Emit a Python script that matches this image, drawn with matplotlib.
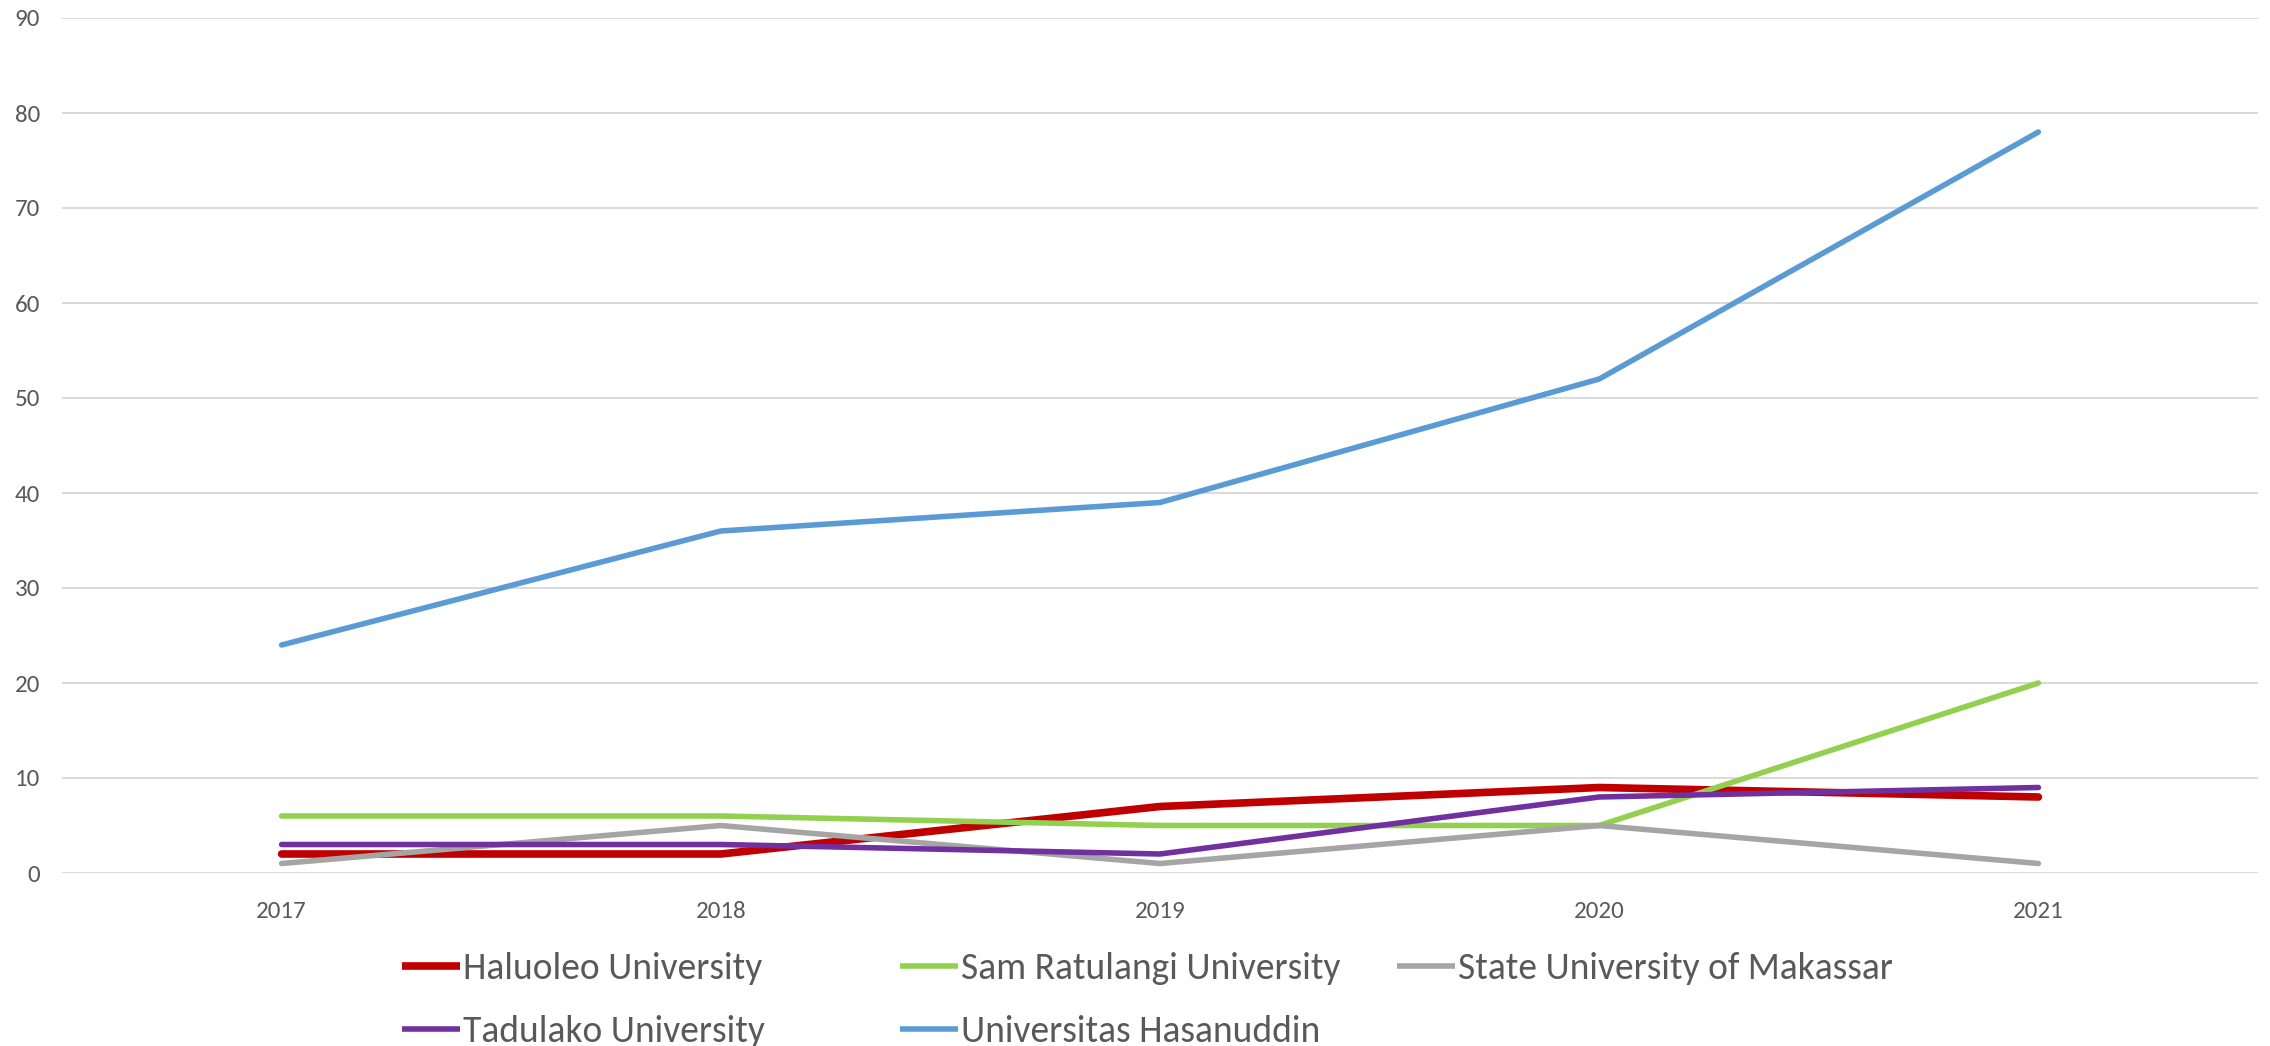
import matplotlib.pyplot as plt
from matplotlib.lines import Line2D

plt.rcParams['font.family'] = ['Carlito', 'Open Sans', 'DejaVu Sans']

# data
years = ['2017', '2018', '2019', '2020', '2021']
haluoleo = [2, 2, 7, 9, 8]
sam_ratulangi = [6, 6, 5, 5, 20]
state_makassar = [1, 5, 1, 5, 1]
tadulako = [3, 3, 2, 8, 9]
hasanuddin = [24, 36, 39, 52, 78]

series = [
    ('Haluoleo University', haluoleo, '#C00000', 5.5),
    ('Sam Ratulangi University', sam_ratulangi, '#92D050', 4.0),
    ('State University of Makassar', state_makassar, '#A5A5A5', 4.0),
    ('Tadulako University', tadulako, '#7030A0', 4.0),
    ('Universitas Hasanuddin', hasanuddin, '#5B9BD5', 4.0),
]

fig = plt.figure(figsize=(22.7, 10.46), dpi=100)
ax = fig.add_axes([62 / 2270, 1 - 873 / 1046, (2258 - 62) / 2270, (873 - 18) / 1046])

x = range(len(years))
handles = []
for name, vals, col, lw in series:
    ax.plot(x, vals, color=col, lw=lw, solid_capstyle='round',
            solid_joinstyle='round', label=name)
    handles.append(Line2D([], [], color=col, lw=lw, solid_capstyle='butt'))

ax.set_xlim(-0.5, len(years) - 0.5)
ax.set_ylim(0, 90)
ax.set_yticks(range(0, 91, 10))
ax.set_xticks(list(x))
ax.set_xticklabels(years)
ax.grid(axis='y', color='#D9D9D9', lw=1.4)
ax.set_axisbelow(True)
for s in ax.spines.values():
    s.set_visible(False)
ax.tick_params(axis='both', length=0, colors='#595959', labelsize=18)
ax.tick_params(axis='y', pad=16)
ax.tick_params(axis='x', pad=20)

# legend: three columns with equal spacing, like the original
names = [s[0] for s in series]
cols = [[0, 3], [1, 4], [2]]
col_x = [402, 900, 1397]
for idx, cx in zip(cols, col_x):
    leg = fig.legend([handles[i] for i in idx], [names[i] for i in idx],
                     loc='upper left', bbox_to_anchor=(cx / 2270, 1 - 952 / 1046),
                     frameon=False, fontsize=27, handlelength=1.55,
                     handletextpad=0.08, borderpad=0, borderaxespad=0,
                     labelspacing=0.81)
    for t in leg.get_texts():
        t.set_color('#595959')

fig.savefig('out.png', dpi=100)
